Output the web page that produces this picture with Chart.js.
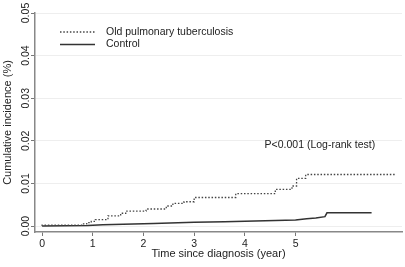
<!DOCTYPE html>
<html>
<head>
<meta charset="utf-8">
<script src="https://cdn.jsdelivr.net/npm/chart.js"></script>
<style>
  html, body { margin: 0; padding: 0; background: #fff; }
  #wrap { width: 405px; height: 267px; }
</style>
</head>
<body>
<div id="wrap"><canvas id="chart1"></canvas></div>
<script>
// cumulative incidence
const tbTime = [0, 0.78, 0.88, 0.97, 1.05, 1.3, 1.55, 1.65, 2.05, 2.45, 2.58, 2.8, 3.0, 3.82, 4.6, 4.93, 5.02, 5.2, 5.6, 6.98];
const tbInc = [0, 0.0002, 0.0005, 0.0008, 0.0011, 0.0015, 0.0024, 0.0030, 0.0035, 0.0040, 0.0047, 0.0053, 0.0057, 0.0067, 0.0076, 0.0086, 0.0094, 0.0112, 0.0121, 0.0121];
const ctrlTime = [0, 0.9, 1.2, 1.6, 2.2, 3.0, 3.6, 4.2, 4.6, 5.0, 5.22, 5.4, 5.58, 5.62, 6.5];
const ctrlInc = [0, 0.0001, 0.0003, 0.0004, 0.0006, 0.0009, 0.0010, 0.0012, 0.0013, 0.0014, 0.0017, 0.0019, 0.0022, 0.0031, 0.0031];

const seriesLabels = ['Old pulmonary tuberculosis', 'Control'];
const xTicks = [0, 1, 2, 3, 4, 5];
const yTicks = [0, 0.01, 0.02, 0.03, 0.04, 0.05];
const pNote = 'P<0.001 (Log-rank test)';

Chart.defaults.font.family = '"Liberation Sans", Arial, sans-serif';
Chart.defaults.color = '#222';

function toPoints(t, v) {
    return t.map((x, i) => ({ x: x, y: v[i] }));
}

// legend sits inside the plot, Stata style
const insideLegend = {
    id: 'insideLegend',
    afterDraw(chart) {
        const { ctx, chartArea } = chart;
        ctx.save();
        chart.data.datasets.forEach((ds, i) => {
            const y = chartArea.top + 19 + i * 12.5;
            const x0 = chartArea.left + 25;
            ctx.beginPath();
            ctx.setLineDash(ds.borderDash || []);
            ctx.lineWidth = ds.borderWidth;
            ctx.strokeStyle = ds.borderColor;
            ctx.moveTo(x0, y);
            ctx.lineTo(x0 + 35, y);
            ctx.stroke();
            ctx.setLineDash([]);
            ctx.fillStyle = '#222';
            ctx.font = '10.5px "Liberation Sans", Arial, sans-serif';
            ctx.textBaseline = 'middle';
            ctx.textAlign = 'left';
            ctx.fillText(ds.label, x0 + 46, y);
        });
        // log-rank note
        const px = chart.scales.x.getPixelForValue(5.48);
        const py = chart.scales.y.getPixelForValue(0.0189);
        ctx.textAlign = 'center';
        ctx.fillText(pNote, px, py);
        ctx.restore();
    }
};

const ctx = document.getElementById('chart1').getContext('2d');
const chart1 = new Chart(ctx, {
    type: 'line',
    data: {
        datasets: [
            {
                label: seriesLabels[0],
                data: toPoints(tbTime, tbInc),
                borderColor: '#444',
                borderWidth: 1.3,
                borderDash: [1.5, 1.8],
                stepped: 'after',
                pointRadius: 0,
                fill: false
            },
            {
                label: seriesLabels[1],
                data: toPoints(ctrlTime, ctrlInc),
                borderColor: '#333',
                borderWidth: 1.5,
                pointRadius: 0,
                tension: 0,
                fill: false
            }
        ]
    },
    options: {
        responsive: true,
        maintainAspectRatio: false,
        animation: false,
        devicePixelRatio: 1,
        layout: { padding: { left: 0, right: 3, top: 13, bottom: 0 } },
        scales: {
            x: {
                type: 'linear',
                min: -0.14,
                max: 7.1,
                afterBuildTicks: (s) => { s.ticks = xTicks.map(v => ({ value: v })); },
                afterFit: (s) => { s.height = 35; },
                grid: { drawOnChartArea: false, drawTicks: true, tickLength: 4, tickColor: '#777' },
                border: { color: '#888', width: 1.5 },
                ticks: { autoSkip: false, maxRotation: 0, padding: 2, font: { size: 10.5 } },
                title: { display: true, text: 'Time since diagnosis (year)', font: { size: 11 }, padding: { top: 0, bottom: 6 } }
            },
            y: {
                min: -0.0014,
                max: 0.05,
                afterBuildTicks: (s) => { s.ticks = yTicks.map(v => ({ value: v })); },
                afterFit: (s) => { s.width = 35; },
                grid: { color: '#eeeeee', tickColor: '#777', tickLength: 4 },
                border: { color: '#888', width: 1.5 },
                ticks: {
                    minRotation: 90,
                    maxRotation: 90,
                    crossAlign: 'center',
                    padding: -5,
                    font: { size: 10.5 },
                    callback: (v) => v.toFixed(2)
                },
                title: { display: true, text: 'Cumulative incidence (%)', font: { size: 11 }, padding: { top: 1, bottom: 0 } }
            }
        },
        plugins: {
            legend: { display: false },
            tooltip: { enabled: false }
        }
    },
    plugins: [insideLegend]
});
</script>
</body>
</html>
